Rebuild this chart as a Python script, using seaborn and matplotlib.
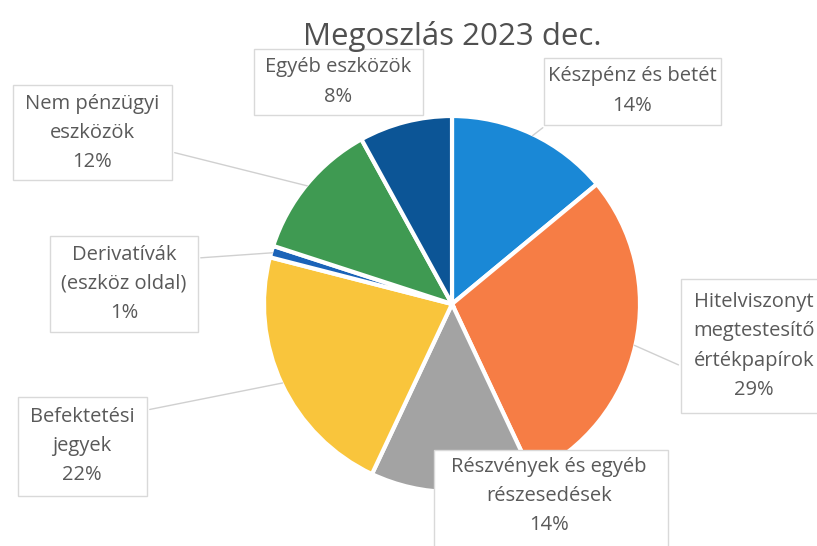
import numpy as np
import matplotlib.pyplot as plt
import seaborn as sns

sns.set_theme(style="white")
plt.rcParams['font.family'] = ['Open Sans', 'DejaVu Sans']

# Adatok / data
kategoriak = [
    "Készpénz és betét",
    "Hitelviszonyt\nmegtestesítő\nértékpapírok",
    "Részvények és egyéb\nrészesedések",
    "Befektetési\njegyek",
    "Derivatívák\n(eszköz oldal)",
    "Nem pénzügyi\neszközök",
    "Egyéb eszközök",
]
ertekek = [14, 29, 14, 22, 1, 12, 8]
szinek = ["#1a88d6", "#f67d45", "#a3a3a3", "#f9c53c", "#1b63b8", "#3f9a52", "#0c5596"]

fig = plt.figure(figsize=(8.17, 5.46), dpi=100)
W, H = 817, 546
cx, cy, R = 452, 304, 188
ax = fig.add_axes([(cx - R) / W, (H - cy - R) / H, 2 * R / W, 2 * R / H])
wedges, _ = ax.pie(ertekek, colors=szinek, startangle=90, counterclock=False,
                   radius=1, wedgeprops=dict(edgecolor="white", linewidth=3))
ax.set_xlim(-1, 1)
ax.set_ylim(-1, 1)
ax.set_aspect("equal")
ax.axis("off")

fig.text(452 / W, 1 - 36 / H, "Megoszlás 2023 dec.", ha="center", va="center",
         fontsize=22.5, color="#505050")

# box centres / sizes (pixels from top-left), text centres, leader start points
doboz = [(632, 91), (761, 346), (551, 505), (82, 446), (124, 284), (92, 132), (338, 82)]
meret = [(177, 67), (160, 134), (234, 110), (129, 99), (148, 96), (159, 95), (169, 65)]
szoveg = [(632, 91), (754, 346), (549, 496), (82, 446), (124, 284), (92, 133), (338, 82)]
vonal = [(545, 126), (681, 366), None, (147, 410), (198, 258), (172, 152), None]

for w, lab, v, (bx, by), (bw, bh), (tx, ty), ls in zip(wedges, kategoriak, ertekek,
                                                        doboz, meret, szoveg, vonal):
    ang = np.deg2rad((w.theta1 + w.theta2) / 2)
    px, py = np.cos(ang), np.sin(ang)
    if ls is not None:
        ax.annotate("", xy=(px * 0.98, py * 0.98), xycoords="data",
                    xytext=(ls[0], H - ls[1]), textcoords="figure pixels",
                    arrowprops=dict(arrowstyle="-", color="#d0d0d0", lw=1),
                    annotation_clip=False)
    fig.patches.append(plt.Rectangle(((bx - bw / 2) / W, (H - by - bh / 2) / H), bw / W, bh / H,
                                     transform=fig.transFigure, facecolor="white",
                                     edgecolor="#d9d9d9", lw=1, zorder=3))
    fig.text(tx / W, 1 - ty / H, f"{lab}\n{v}%", ha="center", va="center",
             fontsize=14.5, color="#595959", linespacing=1.62, zorder=4)

fig.savefig("out.png", dpi=100)
